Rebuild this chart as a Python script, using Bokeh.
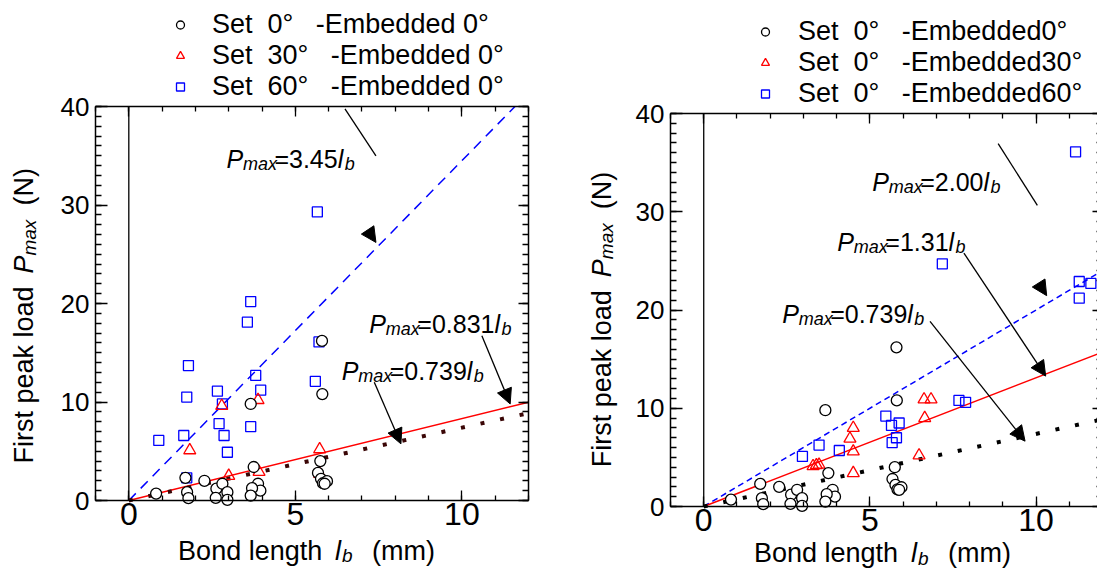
from bokeh.plotting import figure
from bokeh.models import (Range1d, LinearAxis, FixedTicker, Label, Arrow,
                          NormalHead, Legend, LegendItem)
from bokeh.layouts import row
from bokeh.embed import file_html
from bokeh.resources import INLINE

FONT = "Liberation Sans"

# ---------------- data ----------------
# Set 0deg - Embedded 0deg (same series in both panels)
set0_emb0_x = [5.80, 5.81, 3.66, 5.75, 3.75, 1.70, 2.27, 0.82, 1.75, 1.79, 2.63, 2.81,
               2.96, 2.61, 2.96, 3.88, 3.95, 3.70, 3.66, 5.68, 5.77, 5.83, 5.95, 5.88]
set0_emb0_y = [16.2, 10.8, 9.8, 4.0, 3.4, 2.3, 2.0, 0.7, 0.85, 0.24, 1.2, 1.7,
               0.85, 0.27, 0.07, 1.7, 1.0, 1.25, 0.5, 2.8, 2.2, 1.75, 1.96, 1.7]

# Left panel: Set 30deg - Embedded 0deg
set30_emb0_x = [2.79, 3.88, 1.83, 5.73, 3.00, 3.91, 5.73]
set30_emb0_y = [9.6, 10.2, 5.1, 5.2, 2.5, 2.9, 2.7]

# Left panel: Set 60deg - Embedded 0deg
set60_emb0_x = [5.66, 3.66, 3.56, 5.71, 1.79, 3.81, 1.74, 2.66, 3.96, 5.60, 2.81, 2.71,
                3.66, 1.65, 2.86, 0.90, 2.96, 1.74]
set60_emb0_y = [29.3, 20.2, 18.1, 16.1, 13.7, 12.7, 10.5, 11.1, 11.2, 12.1, 9.8, 7.8,
                7.5, 6.6, 6.6, 6.1, 4.9, 2.3]

# Right panel: Set 0deg - Embedded 30deg
set0_emb30_x = [6.63, 6.84, 6.65, 4.50, 4.40, 4.50, 6.48, 3.29, 3.39, 3.47, 4.50]
set0_emb30_y = [10.9, 10.9, 9.0, 8.0, 6.9, 5.6, 5.2, 4.1, 4.2, 4.25, 3.4]

# Right panel: Set 0deg - Embedded 60deg
set0_emb60_x = [11.19, 7.18, 11.30, 11.65, 11.30, 7.68, 7.88, 5.48, 5.65, 5.88, 5.80,
                5.67, 3.47, 4.08, 2.97]
set0_emb60_y = [36.1, 24.7, 22.9, 22.7, 21.2, 10.8, 10.6, 9.2, 8.25, 8.5, 7.0,
                6.5, 6.25, 5.7, 5.1]

# fitted lines  P_max = k * l_b   (blue dashed, red solid, dotted)
left_slopes = [3.45, 0.831, 0.739]
left_slope_labels = ["3.45", "0.831", "0.739"]
right_slopes = [2.00, 1.31, 0.739]
right_slope_labels = ["2.00", "1.31", "0.739"]

left_legend = ["Set  0°   -Embedded 0°", "Set  30°   -Embedded 0°", "Set  60°   -Embedded 0°"]
right_legend = ["Set  0°   -Embedded0°", "Set  0°   -Embedded30°", "Set  0°   -Embedded60°"]

X_LO, X_HI = -1, 12
Y_LO, Y_HI = 0, 40
x_major = [0, 5, 10]
x_minor = list(range(-1, 13))
y_major = [0, 10, 20, 30, 40]
y_minor = list(range(0, 41))

HEIGHT = 569
BASE_SHIFT = 8.5   # bokeh draws "alphabetic" labels a little low; lift them
ARIAL = {'P': 667, 'm': 833, 'a': 556, 'x': 500, '=': 584, '.': 278, 'l': 222, 'b': 556}


def tw(s, size):
    return sum(ARIAL.get(c, 556) for c in s) * size / 1000.0


def rich(p, x, y, segs, angle=0.0):
    for text, dx, dy, size, style in segs:
        dy = dy + BASE_SHIFT
        if angle == 0.0:
            xo, yo = dx, dy
        else:
            xo, yo = -dy, dx
        p.add_layout(Label(x=x, y=y, text=text, x_offset=xo, y_offset=yo, angle=angle,
                           text_font=FONT, text_font_size=f"{size}px",
                           text_font_style=style, text_baseline="alphabetic",
                           text_align="left", text_color="black"))


def pmax_label(p, x, y, coef):
    eq = "=" + coef
    l_off = 48 + tw(eq, 25)
    rich(p, x, y, [("P", 0, 0, 25, "italic"), ("max", 16.5, -5, 18, "italic"),
                   (eq, 48, 0, 25, "normal"), ("l", l_off, 0, 25, "italic"),
                   ("b", l_off + 7, -5, 18, "italic")])


def style_axis(ax, major_in, minor_in, size=None, standoff=0, line=True):
    ax.major_tick_in = major_in
    ax.major_tick_out = 0
    ax.minor_tick_in = minor_in
    ax.minor_tick_out = 0
    ax.axis_line_color = "black" if line else None
    ax.axis_line_width = 1.5
    ax.major_tick_line_color = "black"
    ax.major_tick_line_width = 1.3
    ax.minor_tick_line_color = "black"
    ax.minor_tick_line_width = 1.3
    if size is None:
        ax.major_label_text_color = None
        ax.major_label_standoff = 0
    else:
        ax.major_label_text_font = FONT
        ax.major_label_text_font_size = size
        ax.major_label_text_color = "black"
        ax.major_label_standoff = standoff


def make_panel(width, px_left, px_right, px_top, px_bottom):
    # plot box X_LO..X_HI, Y_LO..Y_HI sits at the given canvas pixels;
    # the frame covers the whole canvas so that all texts lie inside it
    sx = (px_right - px_left) / (X_HI - X_LO)
    sy = (px_bottom - px_top) / (Y_HI - Y_LO)
    xr = Range1d(X_LO - px_left / sx, X_HI + (width - px_right) / sx)
    yr = Range1d(Y_LO - (HEIGHT - px_bottom) / sy, Y_HI + px_top / sy)
    p = figure(width=width, height=HEIGHT, x_range=xr, y_range=yr,
               output_backend="svg", toolbar_location=None,
               x_axis_type=None, y_axis_type=None,
               min_border_left=0, min_border_right=0, min_border_top=0, min_border_bottom=0)
    p.outline_line_color = None
    p.background_fill_color = "white"
    p.border_fill_color = "white"

    bottom = LinearAxis(fixed_location=Y_LO, bounds=(X_LO, X_HI),
                        ticker=FixedTicker(ticks=x_major, minor_ticks=x_minor))
    style_axis(bottom, 10, 5, "32px", 2)
    p.add_layout(bottom, "below")
    top = LinearAxis(fixed_location=Y_HI, bounds=(X_LO, X_HI),
                     ticker=FixedTicker(ticks=x_major, minor_ticks=x_minor))
    style_axis(top, 10, 5)
    p.add_layout(top, "above")
    left = LinearAxis(fixed_location=X_LO, bounds=(Y_LO, Y_HI),
                      ticker=FixedTicker(ticks=y_major, minor_ticks=y_minor))
    style_axis(left, 12, 6, "26px", 6)
    p.add_layout(left, "left")
    right = LinearAxis(fixed_location=X_HI, bounds=(Y_LO, Y_HI),
                       ticker=FixedTicker(ticks=y_major, minor_ticks=y_minor))
    style_axis(right, 10, 6)
    p.add_layout(right, "right")
    # vertical line at l_b = 0
    p.line([0, 0], [Y_LO, Y_HI], line_color="black", line_width=1.3)
    return p


def add_lines(p, slopes, dash_blue, dot_color):
    styles = [dict(line_color="blue", line_width=1.5, line_dash=dash_blue),
              dict(line_color="red", line_width=1.5),
              dict(line_color=dot_color, line_width=4, line_dash="4 16")]
    for k, st in zip(slopes, styles):
        xe = min(X_HI, Y_HI / k)
        p.line([0, xe], [0, k * xe], **st)


def add_points(p, sq_x, sq_y, tri_x, tri_y):
    rs = p.scatter(sq_x, sq_y, marker="square", size=10, fill_color=None,
                   line_color="blue", line_width=1.3)
    rt = p.scatter(tri_x, tri_y, marker="triangle", size=12, fill_color=None,
                   line_color="red", line_width=1.3)
    rc = p.scatter(set0_emb0_x, set0_emb0_y, marker="circle", size=11, fill_color="white",
                   line_color="black", line_width=1.3)
    return rc, rt, rs


def add_legend(p, renderers, labels, loc, standoff):
    items = [LegendItem(label=lab, renderers=[r]) for lab, r in zip(labels, renderers)]
    lg = Legend(items=items, location=loc, border_line_color=None,
                background_fill_alpha=0, label_text_font=FONT,
                label_text_font_size="27px", label_text_color="black",
                glyph_width=20, glyph_height=31, label_height=31, spacing=0,
                padding=0, margin=0, label_standoff=standoff)
    p.add_layout(lg)


def arrow(p, x0, y0, x1, y1, head=True, body=True):
    end = NormalHead(size=15, fill_color="black", line_color="black", line_width=1) if head else None
    p.add_layout(Arrow(x_start=x0, y_start=y0, x_end=x1, y_end=y1, end=end,
                       line_color="black", line_width=1.3, line_alpha=1.0 if body else 0.0))


def axis_labels(p, xl_x, xl_y, yl_x, yl_y):
    rich(p, xl_x, xl_y, [("Bond length", 0, 0, 27, "normal"), ("l", 157, 0, 27, "italic"),
                         ("b", 164, -5, 19, "italic"), ("(mm)", 194, 0, 27, "normal")])
    rich(p, yl_x, yl_y, [("First peak load", 0, 0, 27, "normal"), ("P", 190, 0, 27, "italic"),
                         ("max", 208, -5, 19, "italic"), ("(N)", 258, 0, 27, "normal")],
         angle=1.5707963267948966)


# ---------------- left panel ----------------
p1 = make_panel(560, 95, 528, 106, 500)
add_lines(p1, left_slopes, "10 7", "#3a0606")
rc, rt, rs = add_points(p1, set60_emb0_x, set60_emb0_y, set30_emb0_x, set30_emb0_y)
add_legend(p1, [rc, rt, rs], left_legend, (170, 467), 22)
pmax_label(p1, 2.93, 33.8, left_slope_labels[0])
pmax_label(p1, 7.22, 17.07, left_slope_labels[1])
pmax_label(p1, 6.39, 12.27, left_slope_labels[2])
arrow(p1, 6.49, 39.76, 7.42, 34.99, head=False)
arrow(p1, 6.95, 28.58, 7.42, 26.2, body=False)
arrow(p1, 10.60, 16.73, 11.45, 9.80)
arrow(p1, 7.37, 12.0, 8.17, 5.75)
axis_labels(p1, 1.48, -5.98, -2.88, 3.75)

# ---------------- right panel ----------------
p2 = make_panel(537, 110, 542, 113, 506)
add_lines(p2, right_slopes, "6 4", "black")
rc2, rt2, rs2 = add_points(p2, set0_emb60_x, set0_emb60_y, set0_emb30_x, set0_emb30_y)
add_legend(p2, [rc2, rt2, rs2], right_legend, (195, 460), 23)
pmax_label(p2, 5.07, 32.18, right_slope_labels[0])
pmax_label(p2, 4.02, 26.07, right_slope_labels[1])
pmax_label(p2, 2.36, 18.77, right_slope_labels[2])
arrow(p2, 8.86, 36.94, 10.04, 30.65, head=False)
arrow(p2, 9.85, 23.97, 10.32, 21.46, body=False)
arrow(p2, 7.83, 25.79, 10.29, 13.27)
arrow(p2, 6.81, 18.84, 9.67, 6.65)
axis_labels(p2, 1.51, -5.6, -2.81, 4.0)

layout = row(p1, p2)
open("out.html", "w").write(file_html(layout, INLINE))
